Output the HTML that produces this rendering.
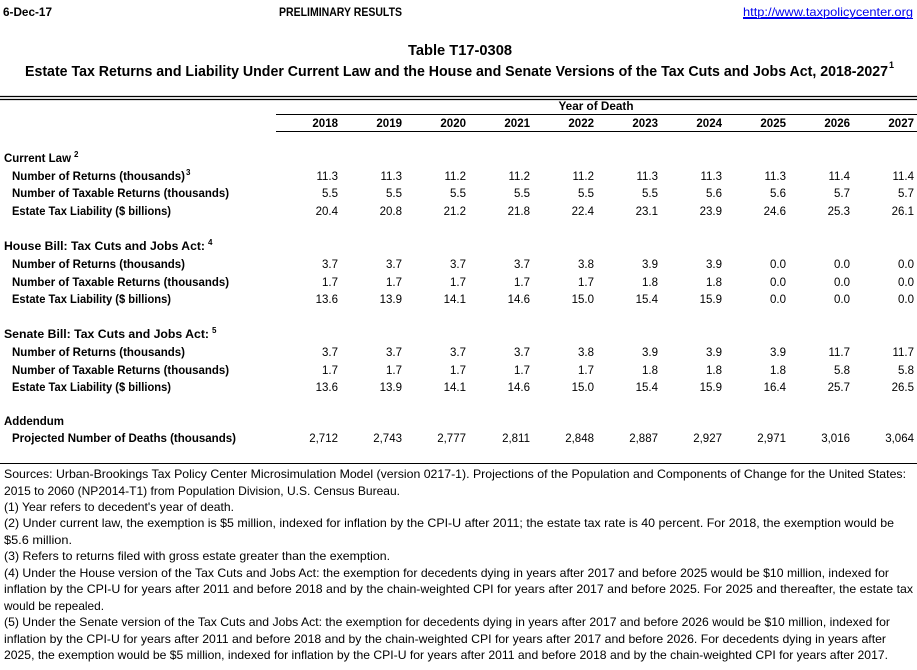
<!DOCTYPE html>
<html><head><meta charset="utf-8"><style>
html,body{margin:0;padding:0;background:#fff;}
svg{display:block;font-family:"Liberation Sans",sans-serif;}
.b{font-weight:bold;font-size:11.5px;fill:#000;}
.n{font-size:11.5px;fill:#000;text-anchor:end;}
.f{font-size:12px;fill:#000;}
.s{font-size:8px;font-weight:bold;}
</style></head><body>
<svg width="917" height="670" viewBox="0 0 917 670" xmlns="http://www.w3.org/2000/svg">
<text class="b" x="3" y="16" textLength="49" lengthAdjust="spacingAndGlyphs">6-Dec-17</text>
<text class="b" x="279" y="16" textLength="123" lengthAdjust="spacingAndGlyphs">PRELIMINARY RESULTS</text>
<text x="743" y="16" font-size="12" fill="#0000ee" text-decoration="underline" textLength="170" lengthAdjust="spacingAndGlyphs">http://www.taxpolicycenter.org</text>
<line x1="743" y1="18.5" x2="913" y2="18.5" stroke="#0000ee" stroke-width="1"/>
<text x="460" y="55" font-size="15" font-weight="bold" text-anchor="middle" textLength="104" lengthAdjust="spacingAndGlyphs">Table T17-0308</text>
<text x="25" y="76" font-size="14.5" font-weight="bold" textLength="863" lengthAdjust="spacingAndGlyphs">Estate Tax Returns and Liability Under Current Law and the House and Senate Versions of the Tax Cuts and Jobs Act, 2018-2027</text>
<text x="889" y="68" font-size="9" font-weight="bold">1</text>
<line x1="0" y1="96.5" x2="917" y2="96.5" stroke="#000" stroke-width="1.2"/>
<line x1="0" y1="99.5" x2="917" y2="99.5" stroke="#000" stroke-width="1.2"/>
<text class="b" x="596" y="110" text-anchor="middle" textLength="75" lengthAdjust="spacingAndGlyphs">Year of Death</text>
<line x1="276" y1="114.5" x2="917" y2="114.5" stroke="#000" stroke-width="1"/>
<g class="b" text-anchor="end">
<text x="338" y="127">2018</text><text x="402" y="127">2019</text><text x="466" y="127">2020</text><text x="530" y="127">2021</text><text x="594" y="127">2022</text><text x="658" y="127">2023</text><text x="722" y="127">2024</text><text x="786" y="127">2025</text><text x="850" y="127">2026</text><text x="914" y="127">2027</text>
</g>
<line x1="276" y1="131.5" x2="917" y2="131.5" stroke="#000" stroke-width="1"/>

<text class="b" x="4" y="162" textLength="67" lengthAdjust="spacingAndGlyphs">Current Law</text><text class="s" x="74" y="157">2</text>
<text class="b" x="12" y="180" textLength="173" lengthAdjust="spacingAndGlyphs">Number of Returns (thousands)</text><text class="s" x="186" y="175">3</text>
<text class="b" x="12" y="197" textLength="217" lengthAdjust="spacingAndGlyphs">Number of Taxable Returns (thousands)</text>
<text class="b" x="12" y="215" textLength="159" lengthAdjust="spacingAndGlyphs">Estate Tax Liability ($ billions)</text>

<text class="b" x="4" y="250" textLength="201" lengthAdjust="spacingAndGlyphs">House Bill: Tax Cuts and Jobs Act:</text><text class="s" x="208" y="245">4</text>
<text class="b" x="12" y="268" textLength="173" lengthAdjust="spacingAndGlyphs">Number of Returns (thousands)</text>
<text class="b" x="12" y="286" textLength="217" lengthAdjust="spacingAndGlyphs">Number of Taxable Returns (thousands)</text>
<text class="b" x="12" y="303" textLength="159" lengthAdjust="spacingAndGlyphs">Estate Tax Liability ($ billions)</text>

<text class="b" x="4" y="338" textLength="205" lengthAdjust="spacingAndGlyphs">Senate Bill: Tax Cuts and Jobs Act:</text><text class="s" x="212" y="333">5</text>
<text class="b" x="12" y="356" textLength="173" lengthAdjust="spacingAndGlyphs">Number of Returns (thousands)</text>
<text class="b" x="12" y="374" textLength="217" lengthAdjust="spacingAndGlyphs">Number of Taxable Returns (thousands)</text>
<text class="b" x="12" y="391" textLength="159" lengthAdjust="spacingAndGlyphs">Estate Tax Liability ($ billions)</text>

<text class="b" x="4" y="425" textLength="60" lengthAdjust="spacingAndGlyphs">Addendum</text>
<text class="b" x="12" y="442" textLength="224" lengthAdjust="spacingAndGlyphs">Projected Number of Deaths (thousands)</text>

<g class="n">
<g transform="translate(0,180)"><text x="338">11.3</text><text x="402">11.3</text><text x="466">11.2</text><text x="530">11.2</text><text x="594">11.2</text><text x="658">11.3</text><text x="722">11.3</text><text x="786">11.3</text><text x="850">11.4</text><text x="914">11.4</text></g>
<g transform="translate(0,197)"><text x="338">5.5</text><text x="402">5.5</text><text x="466">5.5</text><text x="530">5.5</text><text x="594">5.5</text><text x="658">5.5</text><text x="722">5.6</text><text x="786">5.6</text><text x="850">5.7</text><text x="914">5.7</text></g>
<g transform="translate(0,215)"><text x="338">20.4</text><text x="402">20.8</text><text x="466">21.2</text><text x="530">21.8</text><text x="594">22.4</text><text x="658">23.1</text><text x="722">23.9</text><text x="786">24.6</text><text x="850">25.3</text><text x="914">26.1</text></g>
<g transform="translate(0,268)"><text x="338">3.7</text><text x="402">3.7</text><text x="466">3.7</text><text x="530">3.7</text><text x="594">3.8</text><text x="658">3.9</text><text x="722">3.9</text><text x="786">0.0</text><text x="850">0.0</text><text x="914">0.0</text></g>
<g transform="translate(0,286)"><text x="338">1.7</text><text x="402">1.7</text><text x="466">1.7</text><text x="530">1.7</text><text x="594">1.7</text><text x="658">1.8</text><text x="722">1.8</text><text x="786">0.0</text><text x="850">0.0</text><text x="914">0.0</text></g>
<g transform="translate(0,303)"><text x="338">13.6</text><text x="402">13.9</text><text x="466">14.1</text><text x="530">14.6</text><text x="594">15.0</text><text x="658">15.4</text><text x="722">15.9</text><text x="786">0.0</text><text x="850">0.0</text><text x="914">0.0</text></g>
<g transform="translate(0,356)"><text x="338">3.7</text><text x="402">3.7</text><text x="466">3.7</text><text x="530">3.7</text><text x="594">3.8</text><text x="658">3.9</text><text x="722">3.9</text><text x="786">3.9</text><text x="850">11.7</text><text x="914">11.7</text></g>
<g transform="translate(0,374)"><text x="338">1.7</text><text x="402">1.7</text><text x="466">1.7</text><text x="530">1.7</text><text x="594">1.7</text><text x="658">1.8</text><text x="722">1.8</text><text x="786">1.8</text><text x="850">5.8</text><text x="914">5.8</text></g>
<g transform="translate(0,391)"><text x="338">13.6</text><text x="402">13.9</text><text x="466">14.1</text><text x="530">14.6</text><text x="594">15.0</text><text x="658">15.4</text><text x="722">15.9</text><text x="786">16.4</text><text x="850">25.7</text><text x="914">26.5</text></g>
<g transform="translate(0,442)"><text x="338">2,712</text><text x="402">2,743</text><text x="466">2,777</text><text x="530">2,811</text><text x="594">2,848</text><text x="658">2,887</text><text x="722">2,927</text><text x="786">2,971</text><text x="850">3,016</text><text x="914">3,064</text></g>
</g>

<line x1="0" y1="463.5" x2="917" y2="463.5" stroke="#000" stroke-width="1"/>
<g class="f">
<text x="4" y="478" textLength="902" lengthAdjust="spacingAndGlyphs">Sources: Urban-Brookings Tax Policy Center Microsimulation Model (version 0217-1). Projections of the Population and Components of Change for the United States:</text>
<text x="4" y="495" textLength="396" lengthAdjust="spacingAndGlyphs">2015 to 2060 (NP2014-T1) from Population Division, U.S. Census Bureau.</text>
<text x="4" y="511" textLength="230" lengthAdjust="spacingAndGlyphs">(1) Year refers to decedent's year of death.</text>
<text x="4" y="527" textLength="890" lengthAdjust="spacingAndGlyphs">(2) Under current law, the exemption is $5 million, indexed for inflation by the CPI-U after 2011; the estate tax rate is 40 percent. For 2018, the exemption would be</text>
<text x="4" y="544" textLength="68" lengthAdjust="spacingAndGlyphs">$5.6 million.</text>
<text x="4" y="560" textLength="386" lengthAdjust="spacingAndGlyphs">(3) Refers to returns filed with gross estate greater than the exemption.</text>
<text x="4" y="577" textLength="885" lengthAdjust="spacingAndGlyphs">(4) Under the House version of the Tax Cuts and Jobs Act: the exemption for decedents dying in years after 2017 and before 2025 would be $10 million, indexed for</text>
<text x="4" y="593" textLength="909" lengthAdjust="spacingAndGlyphs">inflation by the CPI-U for years after 2011 and before 2018 and by the chain-weighted CPI for years after 2017 and before 2025. For 2025 and thereafter, the estate tax</text>
<text x="4" y="610" textLength="100" lengthAdjust="spacingAndGlyphs">would be repealed.</text>
<text x="4" y="626" textLength="886" lengthAdjust="spacingAndGlyphs">(5) Under the Senate version of the Tax Cuts and Jobs Act: the exemption for decedents dying in years after 2017 and before 2026 would be $10 million, indexed for</text>
<text x="4" y="643" textLength="882" lengthAdjust="spacingAndGlyphs">inflation by the CPI-U for years after 2011 and before 2018 and by the chain-weighted CPI for years after 2017 and before 2026. For decedents dying in years after</text>
<text x="4" y="659" textLength="884" lengthAdjust="spacingAndGlyphs">2025, the exemption would be $5 million, indexed for inflation by the CPI-U for years after 2011 and before 2018 and by the chain-weighted CPI for years after 2017.</text>
</g>
</svg>
</body></html>
